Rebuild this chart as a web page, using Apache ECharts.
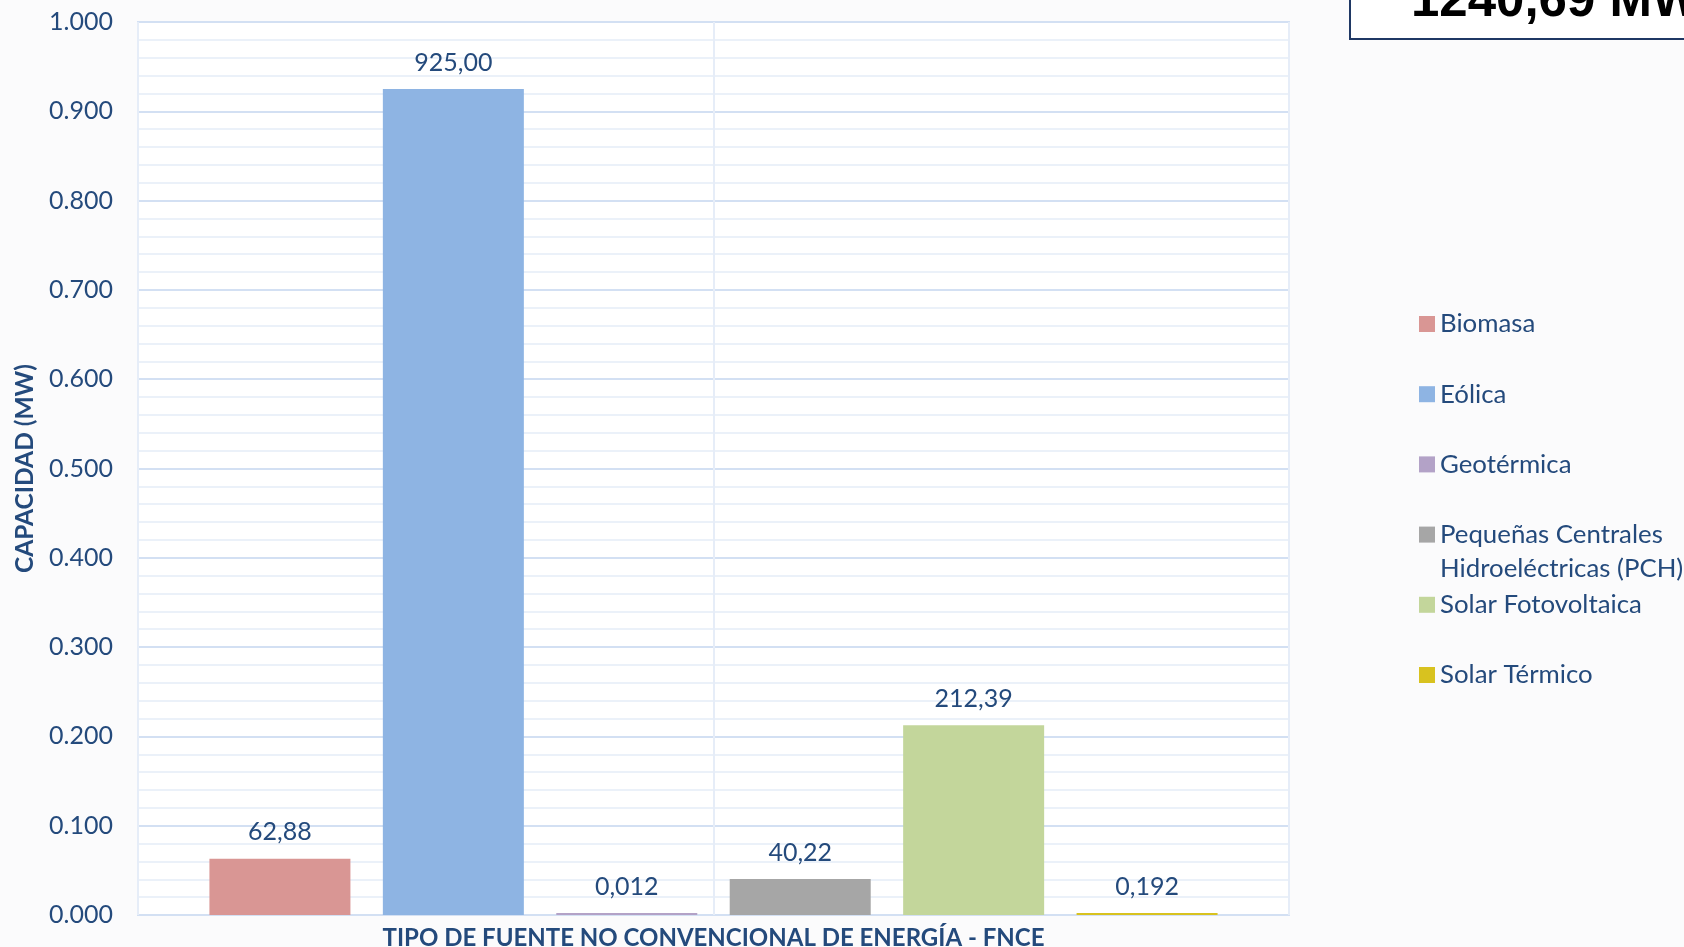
<!DOCTYPE html>
<html lang="es">
<head>
<meta charset="utf-8">
<title>Capacidad FNCE</title>
<script src="https://cdn.jsdelivr.net/npm/echarts@6/dist/echarts.min.js"></script>
<style>
  html, body { margin: 0; padding: 0; background: #fbfbfc; }
  #chart { width: 1684px; height: 947px; }
</style>
</head>
<body>
<div id="chart"></div>
<script>
// datos (MW)
const fuentes = ['Biomasa', 'Eólica', 'Geotérmica', 'Pequeñas Centrales Hidroeléctricas (PCH)', 'Solar Fotovoltaica', 'Solar Térmico']
const capacidadMW = [62.88, 925.00, 0.012, 40.22, 212.39, 0.192]
const colores = ['#d99694', '#8eb4e3', '#b3a2c7', '#a6a6a6', '#c3d69b', '#d8c21f']
const yTickLabels = ['0.000', '0.100', '0.200', '0.300', '0.400', '0.500', '0.600', '0.700', '0.800', '0.900', '1.000']

const azul = '#244a7c'
const fuente = 'Lato, "Open Sans", sans-serif'

const total = capacidadMW.reduce((a, b) => a + b, 0)
const totalTxt = total.toFixed(2).replace('.', ',') + ' MW'

function fmtLabel(v) {
  return (v < 1 ? v.toFixed(3) : v.toFixed(2)).replace('.', ',')
}

const series = fuentes.map((name, i) => ({
  name,
  type: 'bar',
  data: [capacidadMW[i]],
  barWidth: 141,
  barGap: '23%',
  barMinHeight: 2,
  itemStyle: { color: colores[i] },
  label: {
    show: true,
    position: 'top',
    distance: 14,
    color: azul,
    fontFamily: fuente,
    fontSize: 25,
    formatter: p => fmtLabel(p.value),
  },
}))

// one legend per item so the pitch stays even (PCH wraps to two lines)
const legends = fuentes.map((name, i) => {
  const center = 324 + i * 70.2
  const isPCH = name.indexOf('PCH') >= 0
  return {
    data: [name],
    orient: 'vertical',
    left: 1419,
    top: center - (isPCH ? 51 : 17),
    padding: 0,
    itemWidth: 16,
    itemHeight: 16,
    icon: 'rect',
    textStyle: { color: azul, fontFamily: fuente, fontSize: 25.8, lineHeight: 34 },
    formatter: isPCH ? () => '\u00a0\nPequeñas Centrales\nHidroeléctricas (PCH)' : '{name}',
  }
})

const chart = echarts.init(document.getElementById('chart'))
chart.setOption({
  backgroundColor: '#fbfbfc',
  animation: false,
  grid: {
    left: 138, top: 22, right: 395, bottom: 32,
    outerBoundsMode: 'none',
    show: true, backgroundColor: '#ffffff', borderColor: '#d3e0f3', borderWidth: 2,
  },
  legend: legends,
  xAxis: [
    {
      type: 'category',
      data: [''],
      axisLine: { show: false },
      axisTick: { show: false },
      axisLabel: { show: false },
      name: 'TIPO DE FUENTE NO CONVENCIONAL DE ENERGÍA - FNCE',
      nameLocation: 'middle',
      nameGap: 11,
      nameTextStyle: { color: azul, fontFamily: fuente, fontSize: 24, fontWeight: 'bold', verticalAlign: 'top' },
    },
    {
      type: 'value',
      min: 0, max: 2, interval: 1,
      position: 'bottom',
      axisLine: { show: false },
      axisTick: { show: false },
      axisLabel: { show: false },
      splitLine: { show: true, lineStyle: { color: '#e6edf8', width: 2 } },
    },
  ],
  yAxis: {
    type: 'value',
    min: 0, max: 1000, interval: 100,
    axisLine: { show: false },
    axisTick: { show: false },
    axisLabel: {
      color: azul, fontFamily: fuente, fontSize: 25, margin: 25,
      formatter: v => yTickLabels[Math.round(v / 100)],
    },
    splitLine: { lineStyle: { color: '#d3e0f3', width: 2 } },
    minorTick: { show: false, splitNumber: 5 },
    minorSplitLine: { show: true, lineStyle: { color: '#ebf1f9', width: 2 } },
    name: 'CAPACIDAD (MW)',
    nameLocation: 'middle',
    nameGap: 100,
    nameTextStyle: { color: azul, fontFamily: fuente, fontSize: 24.5, fontWeight: 'bold' },
  },
  series,
  graphic: [
    {
      type: 'rect',
      shape: { x: 1350, y: -10, width: 400, height: 49 },
      style: { fill: '#ffffff', stroke: '#1f3864', lineWidth: 2 },
    },
    {
      type: 'text',
      x: 1411, y: 2,
      style: {
        text: totalTxt,
        font: 'bold 51px "Liberation Sans", Arial, sans-serif',
        fill: '#000000',
        verticalAlign: 'middle',
      },
    },
  ],
})
</script>
</body>
</html>
